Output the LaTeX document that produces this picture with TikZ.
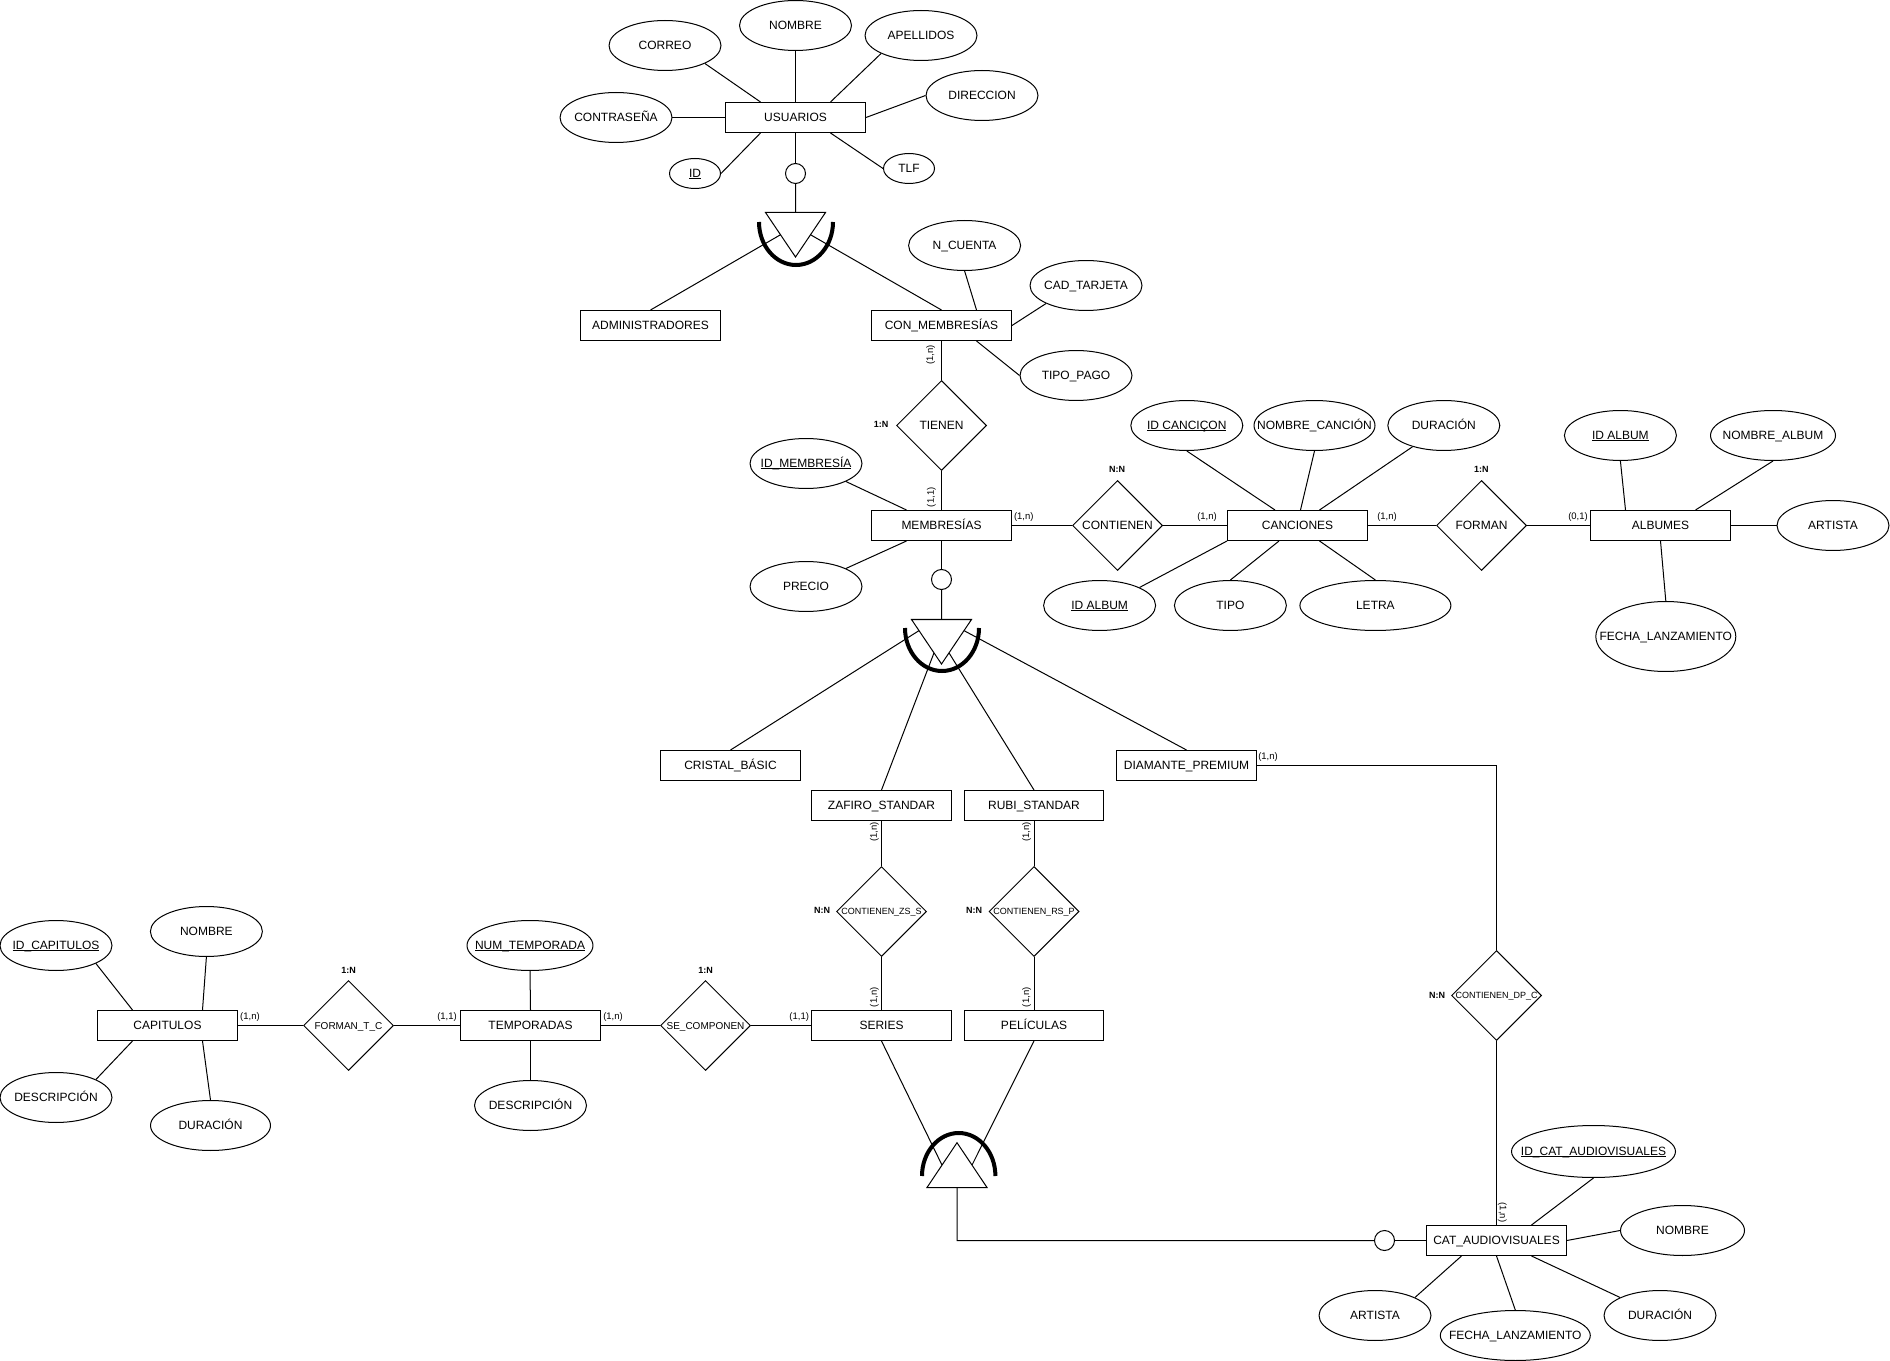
\documentclass[tikz,border=0pt]{standalone}
\usepackage{fontspec}
\setmainfont{Liberation Sans}
\usetikzlibrary{shapes.geometric,calc}
\newcommand{\pkey}[1]{\sbox0{#1}\rlap{\rule[-0.85pt]{\wd0}{0.36pt}}\box0}
\tikzset{
   ent/.style={rectangle, draw, inner sep=0pt, minimum width=2.8cm, minimum height=0.6cm, font=\fontsize{6.83}{8}\selectfont, text height=4.9pt, text depth=0.9pt},
   att/.style={ellipse, draw, inner xsep=-40pt, inner ysep=-10pt, minimum width=2.24cm, minimum height=1cm, font=\fontsize{6.83}{8}\selectfont, text height=4.9pt, text depth=0.9pt},
   att short/.style={att, minimum width=1.02cm, minimum height=0.6cm},
   rel/.style={diamond, aspect=1, draw, inner xsep=-40pt, inner ysep=-10pt, minimum width=1.8cm, minimum height=1.8cm, font=\fontsize{6.83}{8}\selectfont, text height=4.9pt, text depth=0.9pt},
   rel small/.style={rel, font=\fontsize{5.12}{6}\selectfont, text height=3.7pt, text depth=0pt},
   rel mid/.style={rel, font=\fontsize{5.69}{7}\selectfont, text height=4.1pt, text depth=0pt},
   card/.style={inner sep=0pt, font=\fontsize{5.4}{6}\selectfont},
   kind/.style={inner sep=0pt, font=\fontsize{5.12}{6}\selectfont\bfseries},
   opt/.style={circle, draw, fill=white, inner sep=0pt, minimum size=0.4cm},
   tri/.style={draw, fill=white},
   arco/.style={line width=2.28pt},
}
\begin{document}
\begin{tikzpicture}[x=0.02cm, y=-0.02cm, line width=0.57pt]
   \useasboundingbox (0, 0) rectangle (1890, 1361);

   \node [ent] (usuarios) at (795.5, 117.5) {USUARIOS};
   \node [att] (nombreU) at (795.5, 25.5) {NOMBRE};
   \node [att] (correo) at (665, 45.5) {CORREO};
   \node [att] (apellidos) at (921, 35.5) {APELLIDOS};
   \node [att] (direccion) at (982, 95.5) {DIRECCION};
   \node [att] (contrasena) at (616, 117.5) {CONTRASEÑA};
   \node [att short] (idU) at (695, 173.5) {\pkey{ID}};
   \node [att short] (tlf) at (909, 168.5) {TLF};
   \node [opt] (optU) at (795.5, 173.5) {};

   \node [ent] (admin) at (650.5, 325.5) {ADMINISTRADORES};
   \node [ent] (conmem) at (941.5, 325.5) {CON\_MEMBRESÍAS};
   \node [att] (ncuenta) at (964.6, 245.5) {N\_CUENTA};
   \node [att] (cadtarjeta) at (1086, 285.5) {CAD\_TARJETA};
   \node [att] (tipopago) at (1076, 375.5) {TIPO\_PAGO};
   \node [rel] (tienen) at (941.5, 425.5) {TIENEN};

   \node [ent] (membresias) at (941.5, 525.5) {MEMBRESÍAS};
   \node [att] (idM) at (806, 463.5) {\pkey{ID\_MEMBRESÍA}};
   \node [att] (precio) at (806, 586.5) {PRECIO};
   \node [opt] (optM) at (941.5, 579.5) {};
   \node [rel] (contienen) at (1117.5, 525.5) {CONTIENEN};

   \node [ent] (canciones) at (1297.5, 525.5) {CANCIONES};
   \node [att] (idC) at (1186.8, 425.5) {\pkey{ID CANCIÇON}};
   \node [att, minimum width=2.42cm] (nombreC) at (1314.5, 425.5) {NOMBRE\_CANCIÓN};
   \node [att] (duracionC) at (1443.8, 425.5) {DURACIÓN};
   \node [att] (idalbumC) at (1099.6, 605.5) {\pkey{ID ALBUM}};
   \node [att] (tipo) at (1230.4, 605.5) {TIPO};
   \node [att, minimum width=3.02cm] (letra) at (1375.4, 605.5) {LETRA};
   \node [rel] (forman) at (1481.5, 525.5) {FORMAN};

   \node [ent] (albumes) at (1660.5, 525.5) {ALBUMES};
   \node [att] (idA) at (1620.4, 435.5) {\pkey{ID ALBUM}};
   \node [att, minimum width=2.5cm] (nombreA) at (1773, 435.5) {NOMBRE\_ALBUM};
   \node [att] (artistaA) at (1833, 525.5) {ARTISTA};
   \node [att, minimum width=2.8cm, minimum height=1.4cm] (fechaA) at (1665.8, 636.5) {FECHA\_LANZAMIENTO};

   \node [ent] (cristal) at (730.5, 765.5) {CRISTAL\_BÁSIC};
   \node [ent] (diamante) at (1186.5, 765.5) {DIAMANTE\_PREMIUM};
   \node [ent] (zafiro) at (881.5, 805.5) {ZAFIRO\_STANDAR};
   \node [ent] (rubi) at (1034, 805.5) {RUBI\_STANDAR};
   \node [rel small] (contZS) at (881.5, 911.5) {CONTIENEN\_ZS\_S};
   \node [rel small] (contRS) at (1034, 911.5) {CONTIENEN\_RS\_P};
   \node [ent] (series) at (881.5, 1025.5) {SERIES};
   \node [ent] (peliculas) at (1034, 1025.5) {PELÍCULAS};

   \node [ent] (capitulos) at (167.5, 1025.5) {CAPITULOS};
   \node [att] (idCap) at (56, 945.5) {\pkey{ID\_CAPITULOS}};
   \node [att] (nombreCap) at (206.4, 931.5) {NOMBRE};
   \node [att] (descCap) at (56, 1097.5) {DESCRIPCIÓN};
   \node [att, minimum width=2.4cm] (duracionCap) at (210.5, 1125.5) {DURACIÓN};
   \node [rel mid] (formanTC) at (348.5, 1025.5) {FORMAN\_T\_C};
   \node [ent] (temporadas) at (530.5, 1025.5) {TEMPORADAS};
   \node [att, minimum width=2.52cm] (numTemp) at (530, 945.5) {\pkey{NUM\_TEMPORADA}};
   \node [att] (descTemp) at (530.5, 1105.5) {DESCRIPCIÓN};
   \node [rel mid] (secomponen) at (705.5, 1025.5) {SE\_COMPONEN};

   \node [ent] (cat) at (1496.5, 1240.5) {CAT\_AUDIOVISUALES};
   \node [rel small] (contDP) at (1496.5, 995.5) {CONTIENEN\_DP\_C};
   \node [opt] (optC) at (1384.5, 1240.5) {};
   \node [att, minimum width=3.28cm, minimum height=1.04cm] (idCat) at (1593.5, 1151.5) {\pkey{ID\_CAT\_AUDIOVISUALES}};
   \node [att, minimum width=2.48cm] (nombreCat) at (1682.5, 1230.5) {NOMBRE};
   \node [att] (duracionCat) at (1660, 1315.5) {DURACIÓN};
   \node [att, minimum width=3cm] (fechaCat) at (1515.3, 1335.5) {FECHA\_LANZAMIENTO};
   \node [att] (artistaCat) at (1375, 1315.5) {ARTISTA};

   \coordinate (isaUa) at (765.5, 212.5);
   \coordinate (isaUb) at (825.5, 212.5);
   \coordinate (isaUc) at (795.5, 257);
   \coordinate (isaMa) at (911.5, 619.5);
   \coordinate (isaMb) at (971.5, 619.5);
   \coordinate (isaMc) at (941.5, 664);
   \coordinate (isaSa) at (927, 1187.5);
   \coordinate (isaSb) at (987, 1187.5);
   \coordinate (isaSc) at (957, 1142.7);
   \coordinate (corner1) at (1496.5, 765.5);
   \coordinate (corner2) at (957, 1240.5);

   \path (nombreU) edge (usuarios);
   \path (contrasena) edge (usuarios);
   \path (direccion.west) edge (usuarios.east);
   \path (correo.south east) edge ($(usuarios.north)+(-35, 0)$);
   \path (apellidos.south west) edge ($(usuarios.north)+(35, 0)$);
   \path (idU.east) edge ($(usuarios.south)+(-35, 0)$);
   \path (tlf.west) edge ($(usuarios.south)+(35, 0)$);
   \path (usuarios) edge (optU);
   \path (optU) edge ($(isaUa)!0.5!(isaUb)$);
   \path (admin.north) edge ($(isaUa)!0.5!(isaUc)$);
   \path (conmem.north) edge ($(isaUb)!0.5!(isaUc)$);

   \path (ncuenta.south) edge ($(conmem.north)+(35, 0)$);
   \path (cadtarjeta.south west) edge (conmem.east);
   \path (tipopago.west) edge ($(conmem.south)+(35, 0)$);
   \path (conmem) edge (tienen);
   \path (tienen) edge (membresias);
   \path (idM.south east) edge ($(membresias.north)+(-35, 0)$);
   \path (precio.north east) edge ($(membresias.south)+(-35, 0)$);
   \path (membresias) edge (optM);
   \path (optM) edge ($(isaMa)!0.5!(isaMb)$);
   \path (membresias) edge (contienen);
   \path (contienen) edge (canciones);
   \path (canciones) edge (forman);
   \path (forman) edge (albumes);

   \path (idC.south) edge ($(canciones.north)+(-22.5, 0)$);
   \path (nombreC.south) edge ($(canciones.north)+(3, 0)$);
   \path (duracionC) edge ($(canciones.north)+(22, 0)$);
   \path (idalbumC.north east) edge (canciones.south west);
   \path (tipo.north) edge ($(canciones.south)+(-18.5, 0)$);
   \path (letra.north) edge ($(canciones.south)+(22, 0)$);
   \path (idA.south) edge ($(albumes.north)+(-35, 0)$);
   \path (nombreA.south) edge ($(albumes.north)+(35, 0)$);
   \path (artistaA) edge (albumes);
   \path (fechaA.north) edge (albumes.south);

   \path (cristal.north) edge ($(isaMa)!0.25!(isaMc)$);
   \path (zafiro.north) edge ($(isaMa)!0.75!(isaMc)$);
   \path (rubi.north) edge ($(isaMb)!0.75!(isaMc)$);
   \path (diamante.north) edge ($(isaMb)!0.25!(isaMc)$);
   \path (zafiro) edge (contZS);
   \path (contZS) edge (series);
   \path (rubi) edge (contRS);
   \path (contRS) edge (peliculas);
   \path (series.south) edge ($(isaSa)!0.5!(isaSc)$);
   \path (peliculas.south) edge ($(isaSb)!0.5!(isaSc)$);

   \path (capitulos) edge (formanTC);
   \path (formanTC) edge (temporadas);
   \path (temporadas) edge (secomponen);
   \path (secomponen) edge (series);
   \path (idCap.south east) edge ($(capitulos.north)+(-35, 0)$);
   \path (nombreCap.south) edge ($(capitulos.north)+(35, 0)$);
   \path (descCap.north east) edge ($(capitulos.south)+(-35, 0)$);
   \path (duracionCap.north) edge ($(capitulos.south)+(35, 0)$);
   \path (numTemp.south) edge (temporadas.north);
   \path (descTemp.north) edge (temporadas.south);

   \draw (diamante.east) -- (corner1) -- (contDP.north);
   \path (contDP) edge (cat);
   \draw ($(isaSa)!0.5!(isaSb)$) -- (corner2) -- (optC.west);
   \path (optC) edge (cat);
   \path (idCat.south) edge ($(cat.north)+(35, 0)$);
   \path (nombreCat.west) edge (cat.east);
   \path (duracionCat.north west) edge ($(cat.south)+(35, 0)$);
   \path (fechaCat.north) edge (cat.south);
   \path (artistaCat.north east) edge ($(cat.south)+(-35, 0)$);

   \draw [arco] (759, 222) arc [start angle=180, end angle=0, x radius=37, y radius=43];
   \draw [arco] (905, 628) arc [start angle=180, end angle=0, x radius=37, y radius=43];
   \draw [arco] (922, 1176) arc [start angle=180, end angle=360, x radius=36.7, y radius=43];
   \draw [tri] (isaUa) -- (isaUb) -- (isaUc) -- cycle;
   \draw [tri] (isaMa) -- (isaMb) -- (isaMc) -- cycle;
   \draw [tri] (isaSa) -- (isaSb) -- (isaSc) -- cycle;

   \node [kind] (kTienen) at (881, 424.5) {1:N};
   \node [kind] (kContienen) at (1117, 469.5) {N:N};
   \node [kind] (kForman) at (1481.3, 469.3) {1:N};
   \node [kind] (kZS) at (822.2, 910.7) {N:N};
   \node [kind] (kRS) at (974, 910.7) {N:N};
   \node [kind] (kDP) at (1437, 995) {N:N};
   \node [kind] (kTC) at (348.5, 970.7) {1:N};
   \node [kind] (kSC) at (705.6, 970.7) {1:N};

   \node [card, rotate=90] (c1) at (930.7, 355) {(1,n)};
   \node [card, rotate=90] (c2) at (931.3, 497.3) {(1,1)};
   \node [card] (c3) at (1023.8, 516.7) {(1,n)};
   \node [card] (c4) at (1207, 516.7) {(1,n)};
   \node [card] (c5) at (1387, 516.7) {(1,n)};
   \node [card] (c6) at (1578, 516.7) {(0,1)};
   \node [card] (c7) at (1268, 757.3) {(1,n)};
   \node [card, rotate=90] (c8) at (874.3, 831.7) {(1,n)};
   \node [card, rotate=90] (c9) at (1026.7, 831.7) {(1,n)};
   \node [card, rotate=90] (c10) at (874.3, 997.3) {(1,n)};
   \node [card, rotate=90] (c11) at (1026.7, 997.3) {(1,n)};
   \node [card] (c12) at (250, 1016.7) {(1,n)};
   \node [card] (c13) at (447, 1016.7) {(1,1)};
   \node [card] (c14) at (613, 1016.7) {(1,n)};
   \node [card] (c15) at (799.2, 1017) {(1,1)};
   \node [card, rotate=-90] (c16) at (1502.3, 1212.5) {(1,n)};
\end{tikzpicture}
\end{document}
